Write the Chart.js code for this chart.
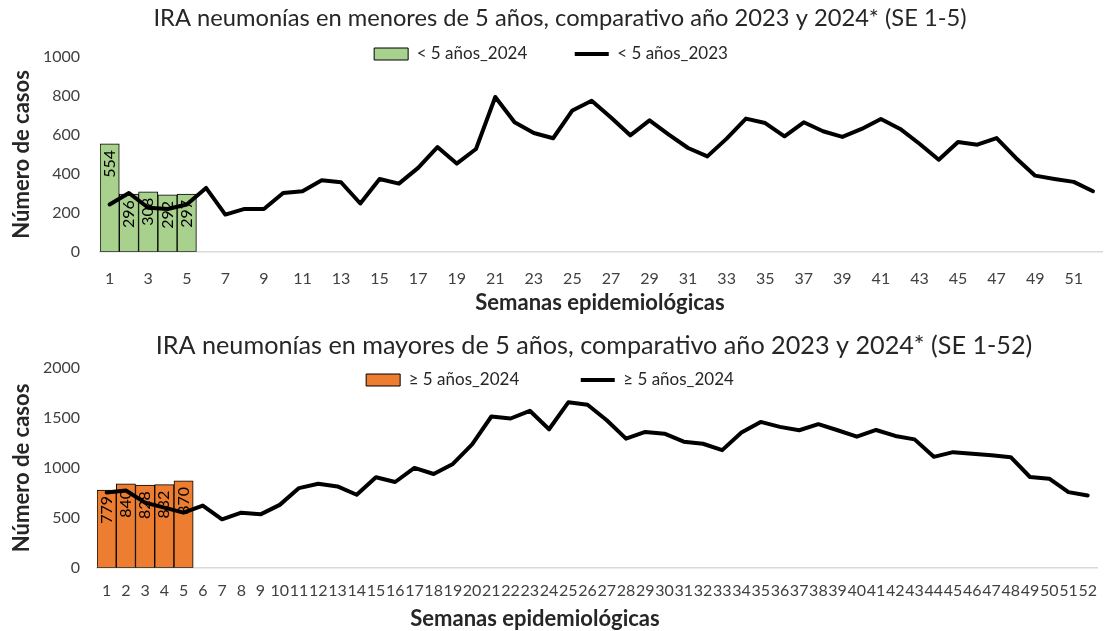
<!DOCTYPE html>
<html>
<head>
<meta charset="utf-8">
<script src="https://cdn.jsdelivr.net/npm/chart.js@4/dist/chart.umd.min.js"></script>
<style>
  body { margin: 0; background: #fff; }
  .box { position: absolute; left: 0; width: 1110px; }
</style>
</head>
<body>
<div class="box" style="top:0;height:320px"><canvas id="menores" width="1110" height="320"></canvas></div>
<div class="box" style="top:320px;height:311px"><canvas id="mayores" width="1110" height="311"></canvas></div>
<script>
// semanas epidemiologicas 1..52
var semanas = [];
for (var i = 1; i <= 52; i++) semanas.push(String(i));

// < 5 años
var menores2024 = [554, 296, 308, 292, 297];
var menores2023 = [243, 302, 226, 220, 243, 328, 191, 220, 220, 302,
                   311, 367, 357, 248, 374, 350, 431, 538, 453, 528,
                   795, 665, 610, 583, 726, 776, 690, 598, 675, 602,
                   533, 490, 581, 684, 661, 593, 665, 619, 590, 631,
                   682, 631, 555, 473, 564, 550, 584, 482, 391, 374,
                   359, 311];

// >= 5 años
var mayores2024 = [779, 840, 828, 832, 870];
var mayores2023 = [754, 774, 653, 603, 552, 623, 485, 552, 535, 630,
                   798, 842, 815, 731, 906, 859, 1000, 939, 1040, 1236,
                   1515, 1495, 1572, 1387, 1657, 1633, 1478, 1293, 1360, 1343,
                   1263, 1242, 1178, 1354, 1461, 1411, 1377, 1438, 1377, 1313,
                   1380, 1320, 1286, 1111, 1158, 1141, 1128, 1108, 909, 892,
                   758, 724];

var FONT = 'Lato';
var TXT = '#262626';
var LEG_FONT = 17;

// moves title and legend after layout (legend overlaps plot like in Excel)
var nudge = {
    id: 'nudge',
    afterLayout: function (chart, args, o) {
        var t = chart.titleBlock;
        if (t && o.titleDx) { t.left += o.titleDx; t.right += o.titleDx; }
        var lg = chart.legend;
        if (lg) {
            lg.top = o.legendY - lg.options.labels.padding - LEG_FONT / 2;
            lg.bottom = lg.top + 120;
            lg.left += o.legendDx; lg.right += o.legendDx;
        }
    }
};

// vertical value labels inside the bars, drawn before the line
var barLabels = {
    id: 'barLabels',
    afterDatasetDraw: function (chart, args) {
        if (args.index !== 0) return;
        var ctx = chart.ctx;
        var data = chart.data.datasets[0].data;
        ctx.save();
        ctx.font = '16px ' + FONT;
        ctx.fillStyle = '#000';
        ctx.textAlign = 'right';
        ctx.textBaseline = 'middle';
        args.meta.data.forEach(function (bar, i) {
            ctx.save();
            ctx.translate(bar.x, bar.y + 6);
            ctx.rotate(-Math.PI / 2);
            ctx.fillText(String(data[i]), 0, 0);
            ctx.restore();
        });
        ctx.restore();
    }
};

// x axis title, placed like the original
var xTitle = {
    id: 'xTitle',
    afterDraw: function (chart, args, o) {
        var ctx = chart.ctx;
        ctx.save();
        ctx.font = 'bold 22px ' + FONT;
        ctx.fillStyle = TXT;
        ctx.textAlign = 'center';
        ctx.textBaseline = 'middle';
        ctx.fillText(o.text, o.x, o.y);
        ctx.restore();
    }
};

function legendLabels(chart) {
    var items = Chart.defaults.plugins.legend.labels.generateLabels(chart);
    items.forEach(function (it) {
        var ds = chart.data.datasets[it.datasetIndex];
        if (ds.type === 'line') {
            it.pointStyle = 'line';
            it.lineWidth = 4;
            it.strokeStyle = '#000';
        } else {
            it.pointStyle = 'rect';
            it.lineWidth = 1;
        }
    });
    return items;
}

function makeChart(id, cfg) {
    return new Chart(document.getElementById(id), {
        type: 'bar',
        data: {
            labels: semanas,
            datasets: [{
                type: 'bar',
                label: cfg.barLabel,
                data: cfg.bars,
                backgroundColor: cfg.barColor,
                borderColor: '#000',
                borderWidth: 1,
                borderSkipped: false,
                categoryPercentage: 1,
                barPercentage: 1,
                order: 1
            }, {
                type: 'line',
                label: cfg.lineLabel,
                data: cfg.line,
                borderColor: '#000',
                backgroundColor: '#000',
                borderWidth: 4,
                pointRadius: 0,
                tension: 0,
                borderJoinStyle: 'round',
                borderCapStyle: 'round',
                order: 0
            }]
        },
        options: {
            responsive: false,
            animation: false,
            layout: { padding: { left: 0, right: cfg.padRight, top: 0, bottom: cfg.padBottom } },
            plugins: {
                title: {
                    display: true,
                    text: cfg.title,
                    color: TXT,
                    font: { family: FONT, size: cfg.titleSize, weight: 'normal' },
                    padding: { top: cfg.titleTop, bottom: cfg.titleBottom }
                },
                legend: {
                    position: 'top',
                    maxHeight: 0.01,
                    labels: {
                        font: { family: FONT, size: LEG_FONT },
                        color: TXT,
                        usePointStyle: true,
                        pointStyleWidth: 34,
                        boxHeight: 12,
                        padding: cfg.legendPad,
                        generateLabels: legendLabels,
                        sort: function (a, b) { return a.datasetIndex - b.datasetIndex; }
                    }
                },
                tooltip: { enabled: false },
                nudge: { titleDx: cfg.titleDx, legendY: cfg.legendY, legendDx: cfg.legendDx },
                xTitle: { text: 'Semanas epidemiológicas', x: cfg.xTitleX, y: cfg.xTitleY }
            },
            scales: {
                x: {
                    grid: { display: false, drawTicks: false },
                    border: { display: true, color: '#d9d9d9', width: 1.5 },
                    ticks: {
                        color: '#404040',
                        font: { family: FONT, size: 16 },
                        autoSkip: false,
                        maxRotation: 0,
                        minRotation: 0,
                        padding: cfg.xTickPad,
                        callback: function (v, i) {
                            return (i % cfg.every === 0) ? semanas[i] : '';
                        }
                    }
                },
                y: {
                    min: 0,
                    max: cfg.yMax,
                    grid: { display: false, drawTicks: false },
                    border: { display: false },
                    ticks: {
                        stepSize: cfg.yStep,
                        color: '#404040',
                        font: { family: FONT, size: 16 },
                        padding: cfg.yTickPad,
                        callback: function (v) { return String(v); }
                    },
                    title: {
                        display: true,
                        text: 'Número de casos',
                        color: TXT,
                        font: { family: FONT, size: 22, weight: 'bold' },
                        padding: { top: 8.8, bottom: 0 }
                    },
                    afterFit: function (scale) { scale.width = cfg.yWidth; }
                }
            }
        },
        plugins: [nudge, barLabels, xTitle]
    });
}

makeChart('menores', {
    title: 'IRA neumonías en menores de 5 años, comparativo año 2023 y 2024* (SE 1-5)',
    barLabel: '< 5 años_2024',
    lineLabel: '< 5 años_2023',
    bars: menores2024,
    line: menores2023,
    barColor: '#a9d18e',
    yMax: 1000, yStep: 200,
    every: 2,
    yWidth: 100, yTickPad: 20,
    padRight: 0, padBottom: 15,
    titleSize: 23.7, titleTop: 3.8, titleBottom: 24.8, titleDx: 5,
    legendPad: 47.5, legendY: 54, legendDx: -4,
    xTickPad: 17,
    xTitleX: 600, xTitleY: 303
});

makeChart('mayores', {
    title: 'IRA neumonías en mayores de 5 años, comparativo año 2023 y 2024* (SE 1-52)',
    barLabel: '≥ 5 años_2024',
    lineLabel: '≥ 5 años_2024',
    bars: mayores2024,
    line: mayores2023,
    barColor: '#ed7d31',
    yMax: 2000, yStep: 500,
    every: 1,
    yWidth: 97, yTickPad: 17,
    padRight: 2, padBottom: 18,
    titleSize: 25.2, titleTop: 10.9, titleBottom: 6.9, titleDx: 40,
    legendPad: 61.5, legendY: 60, legendDx: -4,
    xTickPad: 13,
    xTitleX: 535, xTitleY: 299
});
</script>
</body>
</html>
